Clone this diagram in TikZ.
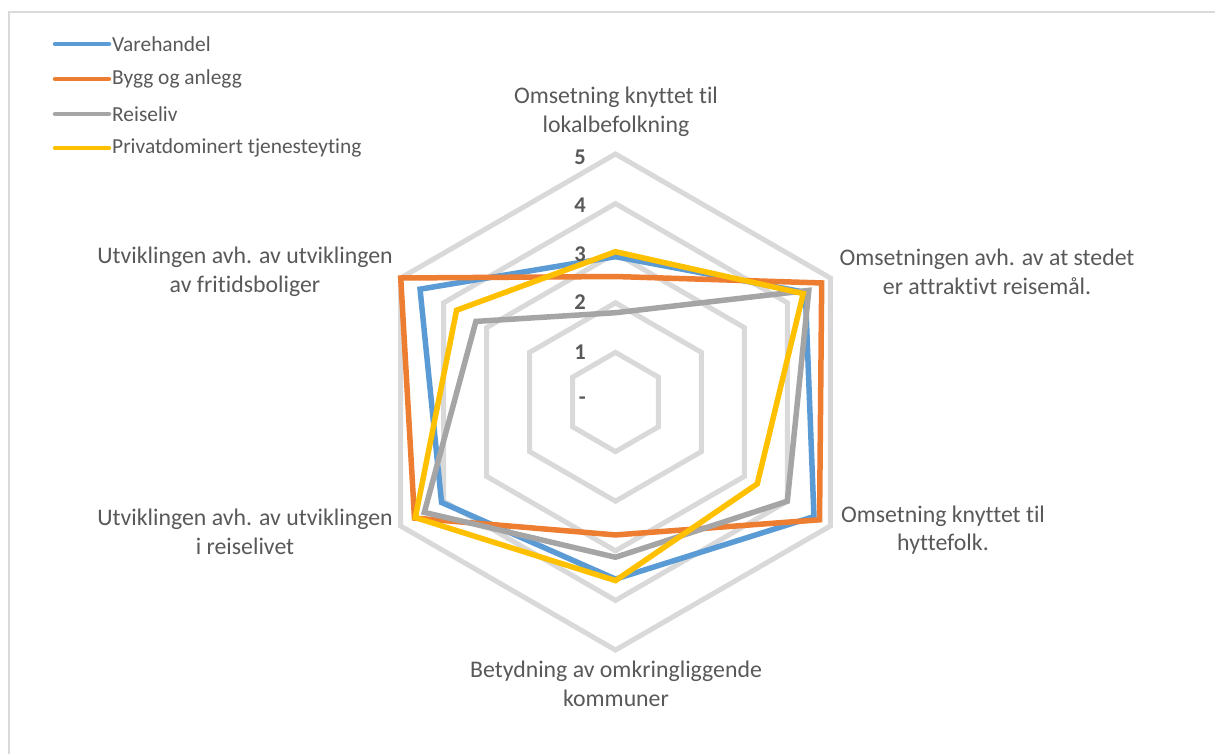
\documentclass[tikz,border=0pt]{standalone}
\usepackage{fontspec}
\setmainfont[Ligatures={NoCommon}]{Carlito}
\definecolor{cblue}{HTML}{5B9BD5}
\definecolor{corange}{HTML}{ED7D31}
\definecolor{cgray}{HTML}{A5A5A5}
\definecolor{cyellow}{HTML}{FFC000}
\definecolor{gridc}{HTML}{D9D9D9}
\definecolor{txt}{HTML}{595959}
\definecolor{framec}{HTML}{D9D9D9}
\newcommand\radarseries[3]{%
  \foreach \v [count=\k from 0] in {#3} {\coordinate (#1\k) at ({60*\k-90}:{\v*49.6});}
  \draw[serie,#2] (#10)--(#11)--(#12)--(#13)--(#14)--(#15)--cycle;}
\begin{document}
\begin{tikzpicture}[x=1pt,y=-1pt,
  serie/.style={line width=5.5pt,line join=miter},
  gridline/.style={draw=gridc,line width=5pt},
  legline/.style={line width=4.5pt,line cap=round},
  axlabel/.style={text=txt,align=center,font=\fontsize{23.8}{28.5}\selectfont,inner sep=0pt},
  legtext/.style={text=txt,anchor=west,font=\fontsize{21.4}{25}\selectfont,inner sep=0pt},
  num/.style={text=txt,anchor=east,font=\fontsize{22.5}{26}\selectfont\bfseries,inner sep=0pt}]
\useasboundingbox (0,0) rectangle (1215,754);
\fill[white] (0,0) rectangle (1215,754);
\draw[framec,line width=1.5pt] (9,754) -- (9,12) -- (1215,12);
\begin{scope}[shift={(615.5,402)}]
  \foreach \r in {1,...,5} {
    \foreach \k in {0,...,5} {\coordinate (g\r-\k) at ({60*\k-90}:{\r*49.6});}
    \draw[gridline] (g\r-0)--(g\r-1)--(g\r-2)--(g\r-3)--(g\r-4)--(g\r-5)--cycle;
  }
  \radarseries{blue}{cblue}{2.93,4.42,4.62,3.57,4.05,4.55}
  \radarseries{orange}{corange}{2.53,4.8,4.75,2.68,4.68,5.0}
  \radarseries{gray}{cgray}{1.8,4.5,4.0,3.13,4.45,3.25}
  \radarseries{yellow}{cyellow}{3.03,4.37,3.3,3.6,4.66,3.7}
\end{scope}
% scale numbers
\node[num] (n5) at (586,157) {5};
\node[num] (n4) at (586,205) {4};
\node[num] (n3) at (586,254) {3};
\node[num] (n2) at (586,302) {2};
\node[num] (n1) at (586,352) {1};
\node[num] (n0) at (586,401) {-};
% axis labels
\node[axlabel] (a0) at (616,112) {Omsetning knyttet til\\lokalbefolkning};
\node[axlabel] (a1) at (987,272) {Omsetningen avh. av at stedet\\er attraktivt reisemål.};
\node[axlabel] (a2) at (943,530) {Omsetning knyttet til\\hyttefolk.};
\node[axlabel] (a3) at (616,684) {Betydning av omkringliggende\\kommuner};
\node[axlabel] (a4) at (245,532) {Utviklingen avh. av utviklingen\\i reiselivet};
\node[axlabel] (a5) at (245,272) {Utviklingen avh. av utviklingen\\av fritidsboliger};
% legend
\coordinate (l1a) at (55,44);  \coordinate (l1b) at (109,44);
\coordinate (l2a) at (55,79);  \coordinate (l2b) at (109,79);
\coordinate (l3a) at (55,114); \coordinate (l3b) at (109,114);
\coordinate (l4a) at (55,148); \coordinate (l4b) at (109,148);
\draw[legline,cblue] (l1a) -- (l1b);
\draw[legline,corange] (l2a) -- (l2b);
\draw[legline,cgray] (l3a) -- (l3b);
\draw[legline,cyellow] (l4a) -- (l4b);
\node[legtext] (t1) at (112,44) {Varehandel};
\node[legtext] (t2) at (112,79) {Bygg og anlegg};
\node[legtext] (t3) at (112,114) {Reiseliv};
\node[legtext] (t4) at (112,148) {Privatdominert tjenesteyting};
\end{tikzpicture}
\end{document}
